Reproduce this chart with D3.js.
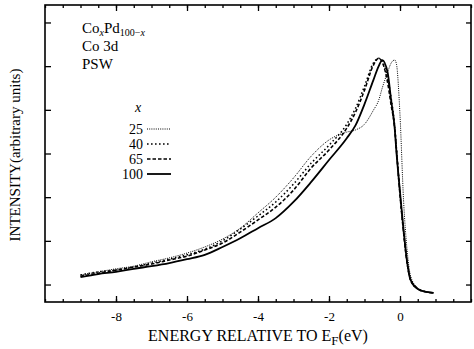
<!DOCTYPE html>
<html>
<head>
<meta charset="utf-8">
<script src="https://cdn.jsdelivr.net/npm/d3@7"></script>
<style>
  body { margin: 0; background: #fff; }
  svg { display: block; font-family: 'Liberation Serif', 'DejaVu Serif', serif; }
</style>
</head>
<body>
<svg id="chart" width="474" height="349"></svg>
<script>
// energies (eV, relative to E_F) shared by all four spectra
const energy = [-9, -8.5, -8, -7.5, -7, -6.5, -6, -5.5, -5, -4.5, -4, -3.5, -3, -2.5, -2, -1.5,
  -1.25, -1, -0.75, -0.6, -0.5, -0.35, -0.25, -0.15, -0.1, 0, 0.1, 0.2, 0.3, 0.5, 0.75, 0.95];

// Co 3d intensities (arbitrary units)
const co25 = [0.62, 0.69, 0.76, 0.82, 0.92, 1.01, 1.12, 1.26, 1.44, 1.69, 2.04, 2.40, 2.84, 3.34, 3.71, 3.89,
  3.94, 4.07, 4.39, 4.62, 4.90, 5.26, 5.47, 5.54, 5.45, 4.28, 2.33, 1.19, 0.59, 0.32, 0.23, 0.21];
const co40 = [0.62, 0.69, 0.73, 0.80, 0.89, 0.98, 1.08, 1.21, 1.40, 1.67, 1.97, 2.29, 2.70, 3.18, 3.59, 4.07,
  4.44, 4.94, 5.47, 5.58, 5.51, 5.13, 4.67, 4.03, 3.52, 2.49, 1.62, 0.92, 0.50, 0.30, 0.23, 0.21];
const co65 = [0.59, 0.66, 0.73, 0.80, 0.87, 0.96, 1.05, 1.19, 1.35, 1.60, 1.88, 2.17, 2.56, 3.07, 3.48, 3.98,
  4.35, 4.85, 5.42, 5.58, 5.49, 5.03, 4.51, 3.98, 3.48, 2.45, 1.60, 0.89, 0.50, 0.30, 0.23, 0.21];
const co100 = [0.57, 0.64, 0.69, 0.76, 0.82, 0.89, 0.98, 1.08, 1.26, 1.46, 1.69, 1.92, 2.29, 2.75, 3.25, 3.75,
  4.05, 4.53, 5.08, 5.40, 5.54, 5.26, 4.62, 3.98, 3.43, 2.52, 1.65, 0.92, 0.50, 0.30, 0.23, 0.21];

const seriesLabels = ['25', '40', '65', '100'];
const seriesValues = [co25, co40, co65, co100];

const xTickValues = [-8, -6, -4, -2, 0];
const yTickValues = [0.4, 1.4, 2.4, 3.4, 4.4, 5.4, 6.4];

const lineStyles = {
  25: { dash: '1,1.2', width: 1.0 },
  40: { dash: '1.6,2.4', width: 1.5 },
  65: { dash: '3.5,2', width: 1.6 },
  100: { dash: null, width: 1.8 },
};

const serif = "'Liberation Serif', 'DejaVu Serif', serif";

function translate(x, y) {
  return `translate(${x},${y})`;
}

const svg = d3.select('#chart');
const frame = { left: 45, top: 5, right: 471, bottom: 302 };

const x = d3.scaleLinear().domain([-10, 2]).range([frame.left, frame.right]);
const y = d3.scaleLinear().domain([0, 6.8]).range([frame.bottom, frame.top]);

const minorX = d3.range(-10, 2.001, 0.5);

// ticks, all pointing into the box
svg.append('g').attr('transform', translate(0, frame.bottom))
  .call(d3.axisBottom(x).tickValues(minorX).tickSize(-3).tickFormat(''));
svg.append('g').attr('transform', translate(0, frame.bottom))
  .call(d3.axisBottom(x).tickValues(xTickValues).tickSize(-6).tickPadding(10)
    .tickFormat(d => (d < 0 ? `-${Math.abs(d)}` : `${d}`)));
svg.append('g').attr('transform', translate(0, frame.top))
  .call(d3.axisTop(x).tickValues(minorX).tickSize(-3).tickFormat(''));
svg.append('g').attr('transform', translate(0, frame.top))
  .call(d3.axisTop(x).tickValues(xTickValues).tickSize(-6).tickFormat(''));
svg.append('g').attr('transform', translate(frame.left, 0))
  .call(d3.axisLeft(y).tickValues(yTickValues).tickSize(-6).tickFormat(''));
svg.append('g').attr('transform', translate(frame.right, 0))
  .call(d3.axisRight(y).tickValues(yTickValues).tickSize(-5).tickFormat(''));

svg.selectAll('.domain').remove();
svg.selectAll('.tick line').attr('stroke', '#000').attr('stroke-width', 1.3);
svg.selectAll('.tick').select(function () { return this.parentNode; })
  .attr('font-family', serif)
  .attr('font-size', 13);
svg.selectAll('.tick text').attr('fill', '#000');

svg.append('rect')
  .attr('x', frame.left)
  .attr('y', frame.top)
  .attr('width', frame.right - frame.left)
  .attr('height', frame.bottom - frame.top)
  .attr('fill', 'none')
  .attr('stroke', '#000')
  .attr('stroke-width', 1.6);

// spectra
const line = d3.line()
  .x(d => x(d[0]))
  .y(d => y(d[1]))
  .curve(d3.curveMonotoneX);

seriesLabels.forEach((name, i) => {
  const pts = energy.map((e, j) => [e, seriesValues[i][j]]);
  svg.append('path')
    .datum(pts)
    .attr('fill', 'none')
    .attr('stroke', '#000')
    .attr('stroke-width', lineStyles[name].width)
    .attr('stroke-dasharray', lineStyles[name].dash)
    .attr('d', line);
});

// annotation in the upper left
const note = svg.append('g').style('font-size', '15px').attr('fill', '#000');
const title = note.append('text').attr('x', 82).attr('y', 33);
title.append('tspan').text('Co');
title.append('tspan').attr('dy', 3).style('font-size', '10px').style('font-style', 'italic').text('x');
title.append('tspan').attr('dy', -3).text('Pd');
title.append('tspan').attr('dy', 3).style('font-size', '10px').text('100−');
title.append('tspan').style('font-size', '10px').style('font-style', 'italic').text('x');
note.append('text').attr('x', 82).attr('y', 51).text('Co 3d');
note.append('text').attr('x', 82).attr('y', 69).text('PSW');

// legend
const legend = svg.append('g').attr('fill', '#000');
legend.append('text')
  .attr('x', 135).attr('y', 112)
  .style('font-size', '14px')
  .style('font-style', 'italic')
  .text('x');

const rows = legend.selectAll('g.row')
  .data(seriesLabels)
  .enter()
  .append('g')
  .attr('class', 'row')
  .attr('transform', (d, i) => translate(0, 129 + i * 15));

rows.append('text')
  .attr('x', 143)
  .attr('dy', '0.35em')
  .attr('text-anchor', 'end')
  .style('font-size', '14px')
  .text(d => d);

rows.append('line')
  .attr('x1', 147)
  .attr('x2', 171)
  .attr('stroke', '#000')
  .attr('stroke-width', d => lineStyles[d].width)
  .attr('stroke-dasharray', d => lineStyles[d].dash);

// axis titles
const xTitle = svg.append('text')
  .attr('x', 258)
  .attr('y', 341)
  .attr('text-anchor', 'middle')
  .style('font-size', '16px')
  .attr('fill', '#000');
xTitle.append('tspan').text('ENERGY RELATIVE TO E');
xTitle.append('tspan').attr('dy', 4).style('font-size', '13px').text('F');
xTitle.append('tspan').attr('dy', -4).text('(eV)');

svg.append('text')
  .attr('transform', `${translate(20, 155)} rotate(-90)`)
  .attr('text-anchor', 'middle')
  .style('font-size', '15px')
  .attr('fill', '#000')
  .text('INTENSITY(arbitrary units)');
</script>
</body>
</html>
